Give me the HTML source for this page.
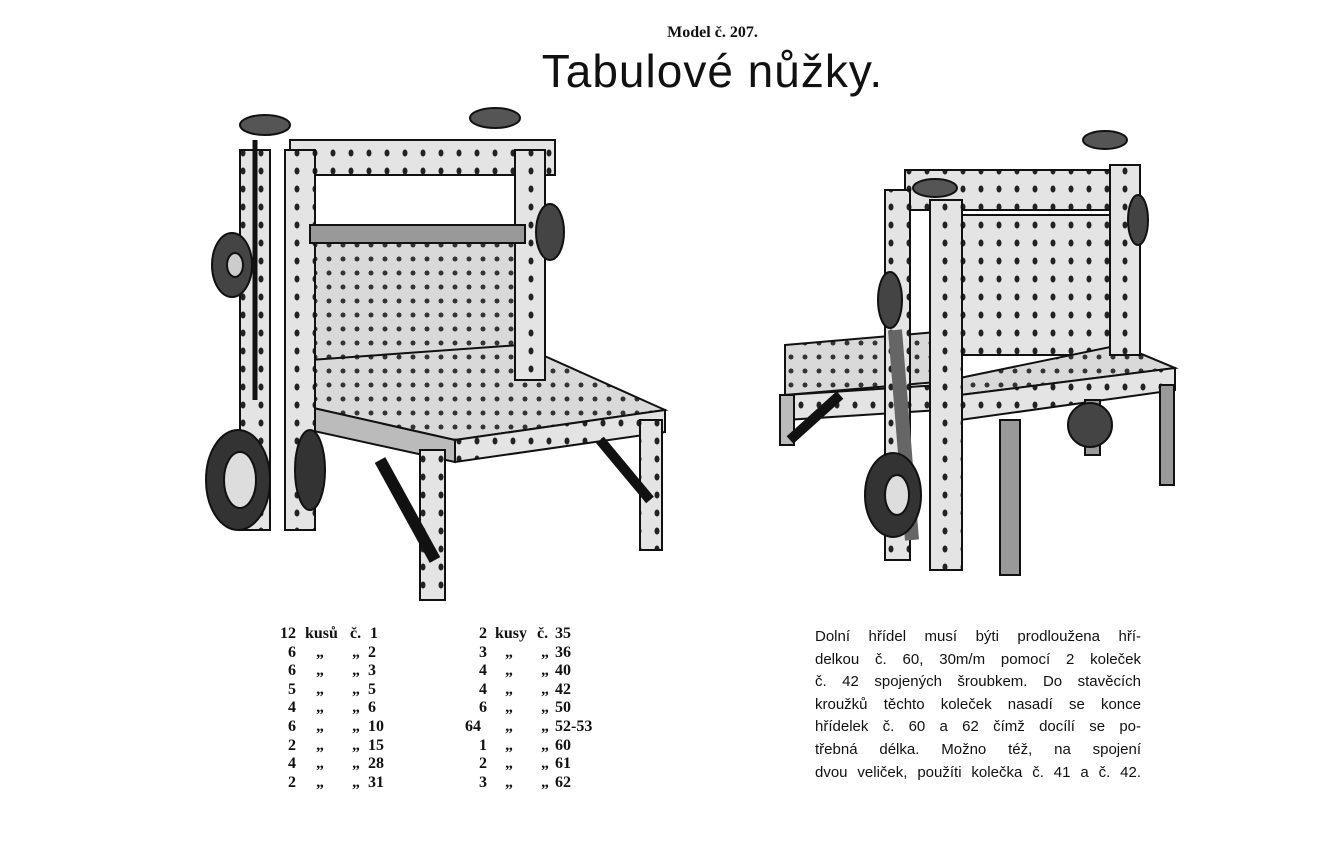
<!DOCTYPE html>
<html><head><meta charset="utf-8"><style>
html,body{margin:0;padding:0;background:#fff;}
body{width:1339px;height:859px;position:relative;overflow:hidden;font-family:"Liberation Serif",serif;color:#111;}
.a{position:absolute;white-space:nowrap;}
.h{left:0;width:1425px;text-align:center;top:24px;font-weight:bold;font-size:16px;}
.t{left:0;width:1425px;text-align:center;top:44px;font-family:"Liberation Sans",sans-serif;font-size:46px;letter-spacing:1px;}
.col{position:absolute;font-weight:bold;font-size:16px;line-height:18.6px;}
.col div{position:relative;height:18.6px;}
.col span{position:absolute;}
.p{position:absolute;left:815px;top:626px;width:326px;font-size:15px;line-height:22.6px;font-family:"Liberation Sans",sans-serif;}
.p div{text-align:justify;text-align-last:justify;white-space:nowrap;height:22.6px;}
</style></head><body>
<div class="a h">Model č. 207.</div>
<div class="a t">Tabulové nůžky.</div>

<svg width="1339" height="859" style="position:absolute;left:0;top:0">
<defs>
<pattern id="holes" width="14" height="14" patternUnits="userSpaceOnUse"><rect width="14" height="14" fill="#d9d9d9"/><circle cx="7" cy="7" r="2.5" fill="#333"/></pattern>
<pattern id="holes2" width="18" height="18" patternUnits="userSpaceOnUse"><rect width="18" height="18" fill="#e4e4e4"/><ellipse cx="9" cy="9" rx="2.5" ry="3.5" fill="#222"/></pattern>
</defs>
<g stroke="#111" stroke-width="2">
<rect x="315" y="225" width="210" height="135" fill="url(#holes)"/>
<polygon points="310,360 520,345 665,410 455,440 300,405" fill="url(#holes)"/>
<polygon points="300,405 455,440 455,462 300,428" fill="#bbb"/>
<polygon points="455,440 665,410 665,432 455,462" fill="url(#holes2)"/>
<rect x="420" y="450" width="25" height="150" fill="url(#holes2)"/>
<rect x="640" y="420" width="22" height="130" fill="url(#holes2)"/>
<line x1="380" y1="460" x2="435" y2="560" stroke-width="12"/>
<line x1="600" y1="440" x2="650" y2="500" stroke-width="10"/>
<rect x="290" y="140" width="265" height="35" fill="url(#holes2)"/>
<rect x="240" y="150" width="30" height="380" fill="url(#holes2)"/>
<rect x="285" y="150" width="30" height="380" fill="url(#holes2)"/>
<rect x="515" y="150" width="30" height="230" fill="url(#holes2)"/>
<rect x="310" y="225" width="215" height="18" fill="#999"/>
<line x1="255" y1="140" x2="255" y2="400" stroke-width="5"/>
<ellipse cx="265" cy="125" rx="25" ry="10" fill="#555"/>
<ellipse cx="495" cy="118" rx="25" ry="10" fill="#555"/>
<ellipse cx="232" cy="265" rx="20" ry="32" fill="#444"/><ellipse cx="235" cy="265" rx="8" ry="12" fill="#ccc"/>
<ellipse cx="550" cy="232" rx="14" ry="28" fill="#444"/>
<ellipse cx="238" cy="480" rx="32" ry="50" fill="#333"/><ellipse cx="240" cy="480" rx="16" ry="28" fill="#ddd"/>
<ellipse cx="310" cy="470" rx="15" ry="40" fill="#333"/>
</g>
<g stroke="#111" stroke-width="2">
<rect x="960" y="215" width="150" height="140" fill="url(#holes2)"/>
<polygon points="785,345 960,330 960,380 785,395" fill="url(#holes)"/>
<polygon points="950,380 1120,345 1175,368 960,395" fill="url(#holes)"/>
<polygon points="960,395 1175,368 1175,390 960,420" fill="url(#holes2)"/>
<polygon points="785,395 940,385 940,410 785,420" fill="url(#holes2)"/>
<rect x="780" y="395" width="14" height="50" fill="#bbb"/>
<rect x="1000" y="420" width="20" height="155" fill="#999"/>
<rect x="1160" y="385" width="14" height="100" fill="#999"/>
<rect x="1085" y="400" width="15" height="55" fill="#999"/>
<line x1="790" y1="440" x2="840" y2="395" stroke-width="10"/>
<rect x="905" y="170" width="235" height="40" fill="url(#holes2)"/>
<rect x="885" y="190" width="25" height="370" fill="url(#holes2)"/>
<rect x="930" y="200" width="32" height="370" fill="url(#holes2)"/>
<rect x="1110" y="165" width="30" height="190" fill="url(#holes2)"/>
<line x1="895" y1="330" x2="912" y2="540" stroke-width="14" stroke="#666"/>
<ellipse cx="935" cy="188" rx="22" ry="9" fill="#555"/>
<ellipse cx="1105" cy="140" rx="22" ry="9" fill="#555"/>
<ellipse cx="890" cy="300" rx="12" ry="28" fill="#444"/>
<ellipse cx="1138" cy="220" rx="10" ry="25" fill="#444"/>
<ellipse cx="893" cy="495" rx="28" ry="42" fill="#333"/><ellipse cx="897" cy="495" rx="12" ry="20" fill="#ddd"/>
<ellipse cx="1090" cy="425" rx="22" ry="22" fill="#444"/>
</g>
</svg>

<div class="col" style="left:280px;top:625px;width:130px">
<div><span style="left:0">12</span><span style="left:25px">kusů</span><span style="left:70px">č.</span><span style="left:90px">1</span></div>
<div><span style="left:8px">6</span><span style="left:36px">„</span><span style="left:72px">„</span><span style="left:88px">2</span></div>
<div><span style="left:8px">6</span><span style="left:36px">„</span><span style="left:72px">„</span><span style="left:88px">3</span></div>
<div><span style="left:8px">5</span><span style="left:36px">„</span><span style="left:72px">„</span><span style="left:88px">5</span></div>
<div><span style="left:8px">4</span><span style="left:36px">„</span><span style="left:72px">„</span><span style="left:88px">6</span></div>
<div><span style="left:8px">6</span><span style="left:36px">„</span><span style="left:72px">„</span><span style="left:88px">10</span></div>
<div><span style="left:8px">2</span><span style="left:36px">„</span><span style="left:72px">„</span><span style="left:88px">15</span></div>
<div><span style="left:8px">4</span><span style="left:36px">„</span><span style="left:72px">„</span><span style="left:88px">28</span></div>
<div><span style="left:8px">2</span><span style="left:36px">„</span><span style="left:72px">„</span><span style="left:88px">31</span></div>
</div>
<div class="col" style="left:465px;top:625px;width:150px">
<div><span style="left:14px">2</span><span style="left:30px">kusy</span><span style="left:72px">č.</span><span style="left:90px">35</span></div>
<div><span style="left:14px">3</span><span style="left:40px">„</span><span style="left:76px">„</span><span style="left:90px">36</span></div>
<div><span style="left:14px">4</span><span style="left:40px">„</span><span style="left:76px">„</span><span style="left:90px">40</span></div>
<div><span style="left:14px">4</span><span style="left:40px">„</span><span style="left:76px">„</span><span style="left:90px">42</span></div>
<div><span style="left:14px">6</span><span style="left:40px">„</span><span style="left:76px">„</span><span style="left:90px">50</span></div>
<div><span style="left:0">64</span><span style="left:40px">„</span><span style="left:76px">„</span><span style="left:90px">52-53</span></div>
<div><span style="left:14px">1</span><span style="left:40px">„</span><span style="left:76px">„</span><span style="left:90px">60</span></div>
<div><span style="left:14px">2</span><span style="left:40px">„</span><span style="left:76px">„</span><span style="left:90px">61</span></div>
<div><span style="left:14px">3</span><span style="left:40px">„</span><span style="left:76px">„</span><span style="left:90px">62</span></div>
</div>

<div class="p">
<div>Dolní hřídel musí býti prodloužena hří-</div>
<div>delkou č. 60, 30m/m pomocí 2 koleček</div>
<div>č. 42 spojených šroubkem. Do stavěcích</div>
<div>kroužků těchto koleček nasadí se konce</div>
<div>hřídelek č. 60 a 62 čímž docílí se po-</div>
<div>třebná délka. Možno též, na spojení</div>
<div>dvou veliček, použíti kolečka č. 41 a č. 42.</div>
</div>
</body></html>
